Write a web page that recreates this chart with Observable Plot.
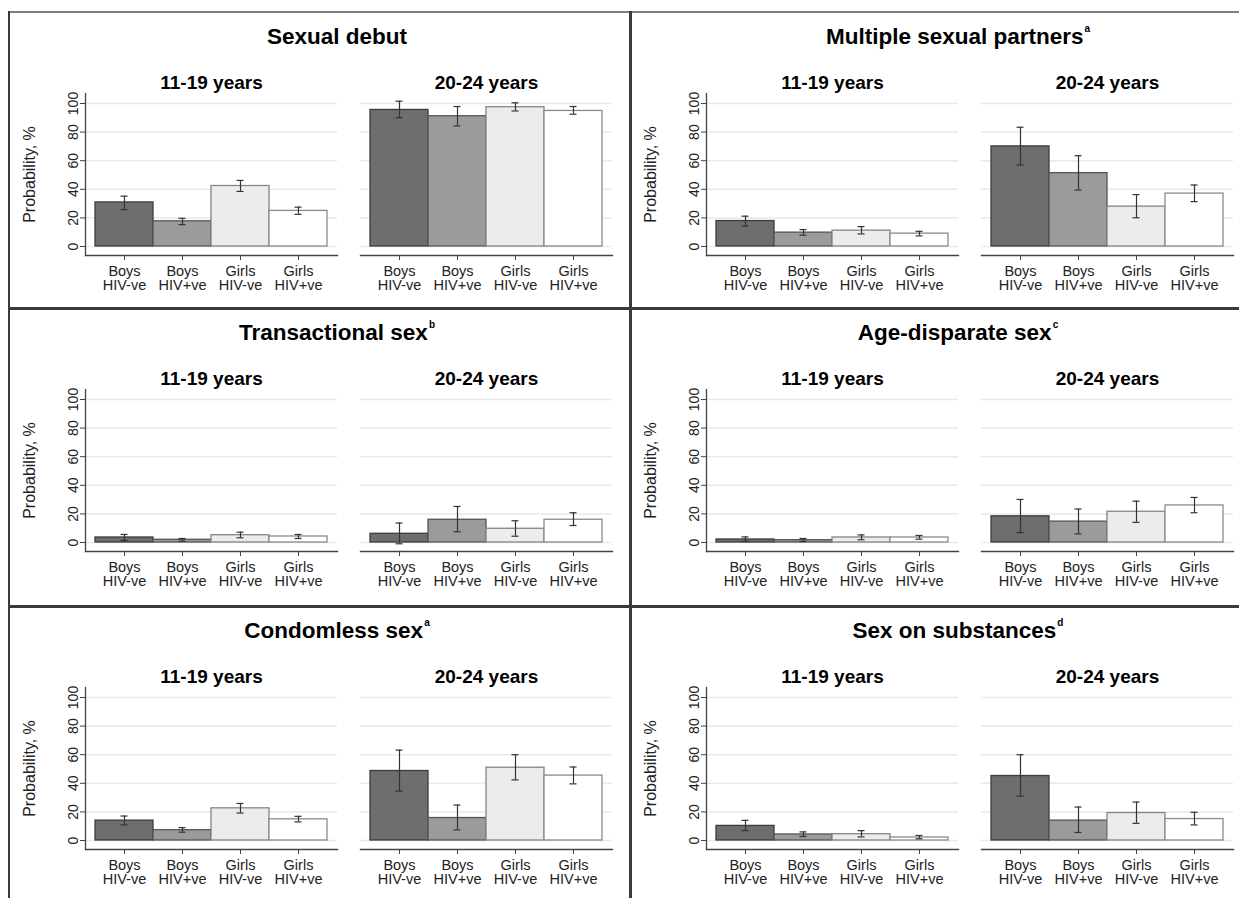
<!DOCTYPE html>
<html><head><meta charset="utf-8">
<script src="https://cdn.jsdelivr.net/npm/d3@7"></script>
<script src="https://cdn.jsdelivr.net/npm/@observablehq/plot@0.6"></script>
<style>
body{margin:0;background:#fff;font-family:"Liberation Sans",Arial,sans-serif;}
#fig{position:relative;width:1239px;height:898px;overflow:hidden;background:#fff}
.cell{position:absolute}
.title{position:absolute;width:500px;text-align:center;font-size:22.5px;font-weight:bold;color:#000;line-height:26px;white-space:nowrap}
.title sup{font-size:10px;vertical-align:12px;line-height:0;margin-left:1px}
.line{position:absolute;background:#3a3a3a}
svg text{font-family:"Liberation Sans",Arial,sans-serif}
g[aria-label="y-axis label"] text{font-size:16px !important;fill:#222}
g[aria-label="y-axis tick label"] text{font-size:14px !important}
g[aria-label="x-axis tick label"] text{font-size:14.5px !important}
g[aria-label="fx-axis tick label"] text{font-size:19px !important;font-weight:bold;fill:#000}
</style></head><body><div id="fig"></div>
<script>
// ---- categories ----
const groups = ["Boys HIV-ve", "Boys HIV+ve", "Girls HIV-ve", "Girls HIV+ve"];
const groupLabels = ["Boys\nHIV-ve", "Boys\nHIV+ve", "Girls\nHIV-ve", "Girls\nHIV+ve"];
const ageGroups = ["11-19 years", "20-24 years"];
const yTicks = [0, 20, 40, 60, 80, 100];
const fillColors = ["#6e6e6e", "#9b9b9b", "#ececec", "#ffffff"];
const strokeColors = ["#3c3c3c", "#555555", "#858585", "#8a8a8a"];

const outcomeTitles = ["Sexual debut", "Multiple sexual partners", "Transactional sex", "Age-disparate sex", "Condomless sex", "Sex on substances"];
const outcomeNotes = ["", "a", "b", "c", "a", "d"];

// ---- values (%): first 4 = 11-19 years, last 4 = 20-24 years ----
const debutEst = [30.8, 17.6, 42.3, 24.9, 95.5, 91.1, 97.4, 94.8];
const debutLo  = [25.8, 15.3, 38.5, 22.5, 90.1, 84.3, 94.8, 92.5];
const debutHi  = [35.2, 19.7, 46.2, 27.5, 101.6, 97.9, 100.5, 97.9];

const partnersEst = [17.8, 9.7, 11.1, 9.0, 70.0, 51.3, 27.9, 37.0];
const partnersLo  = [14.3, 7.9, 8.8, 7.4, 57.0, 39.5, 20.1, 31.4];
const partnersHi  = [21.2, 11.8, 13.9, 10.6, 83.4, 63.5, 36.3, 43.0];

const transactionalEst = [3.5, 1.9, 5.1, 4.2, 6.1, 15.9, 9.6, 15.9];
const transactionalLo  = [1.4, 0.9, 3.3, 2.8, -0.9, 7.5, 4.4, 11.9];
const transactionalHi  = [5.6, 2.8, 7.2, 5.6, 13.6, 25.2, 15.2, 20.8];

const ageDisparateEst = [2.1, 1.6, 3.5, 3.5, 18.3, 14.6, 21.5, 25.9];
const ageDisparateLo  = [0.7, 0.7, 1.9, 2.3, 6.9, 6.0, 14.1, 20.8];
const ageDisparateHi  = [3.9, 2.8, 5.3, 4.9, 30.1, 23.4, 28.9, 31.5];

const condomlessEst = [13.9, 7.2, 22.5, 14.8, 48.6, 15.7, 50.9, 45.4];
const condomlessLo  = [10.9, 5.8, 19.2, 13.0, 34.5, 7.4, 42.4, 39.6];
const condomlessHi  = [17.1, 9.0, 25.9, 16.9, 63.2, 24.8, 60.0, 51.4];

const substancesEst = [10.2, 4.2, 4.4, 2.1, 45.1, 13.9, 19.2, 15.0];
const substancesLo  = [6.9, 2.8, 2.5, 1.2, 31.0, 5.6, 12.0, 10.9];
const substancesHi  = [14.1, 6.0, 6.9, 3.5, 60.0, 23.4, 26.9, 19.7];

const outcomeEst = [debutEst, partnersEst, transactionalEst, ageDisparateEst, condomlessEst, substancesEst];
const outcomeLo = [debutLo, partnersLo, transactionalLo, ageDisparateLo, condomlessLo, substancesLo];
const outcomeHi = [debutHi, partnersHi, transactionalHi, ageDisparateHi, condomlessHi, substancesHi];

// ---- layout ----
const fig = document.getElementById("fig");
const colLeft = [9, 630], colWidth = [621, 609], colMarginRight = [17, 5];
const rowTop = [12, 308, 606];

function addLine(l, t, w, h, c) {
  const d = document.createElement("div");
  d.className = "line";
  Object.assign(d.style, {left: l + "px", top: t + "px", width: w + "px", height: h + "px"});
  if (c) d.style.background = c;
  fig.appendChild(d);
}

outcomeTitles.forEach((title, k) => {
  const col = k % 2, row = Math.floor(k / 2);
  const rows = outcomeEst[k].map((v, i) => ({
    age: ageGroups[Math.floor(i / 4)],
    group: groups[i % 4],
    est: v,
    lo: outcomeLo[k][i],
    hi: outcomeHi[k][i],
    fill: fillColors[i % 4],
    stroke: strokeColors[i % 4]
  }));
  const chart = Plot.plot({
    width: colWidth[col], height: 290,
    marginTop: 81, marginBottom: 47, marginLeft: 76, marginRight: colMarginRight[col],
    fx: {domain: ageGroups, paddingInner: 0.082, paddingOuter: 0, label: null},
    x: {domain: groups, paddingInner: 0, paddingOuter: 0.15, label: null},
    y: {domain: [-6.3, 107], label: null},
    color: {type: "identity"},
    style: {fontFamily: '"Liberation Sans", Arial, sans-serif', fontSize: "14px", color: "#222", background: "white", overflow: "visible"},
    marks: [
      Plot.gridY(yTicks, {stroke: "#e9e9e9", strokeOpacity: 1, strokeWidth: 1.5}),
      Plot.barY(rows, {fx: "age", x: "group", y: "est", fill: "fill", stroke: "stroke", strokeWidth: 1.3}),
      Plot.ruleX(rows, {fx: "age", x: "group", y1: "lo", y2: "hi", stroke: "#333", strokeWidth: 1.2}),
      Plot.tickY(rows, {fx: "age", x: "group", y: "lo", stroke: "#333", strokeWidth: 1.2, insetLeft: 25.5, insetRight: 25.5}),
      Plot.tickY(rows, {fx: "age", x: "group", y: "hi", stroke: "#333", strokeWidth: 1.2, insetLeft: 25.5, insetRight: 25.5}),
      Plot.frame({anchor: "bottom", stroke: "#444", strokeWidth: 1.3}),
      Plot.frame({anchor: "left", facetAnchor: "left", stroke: "#444", strokeWidth: 1.3}),
      Plot.axisY(yTicks, {anchor: "left", tickSize: 5, tickRotate: -90, tickPadding: 3, label: "Probability, %", labelAnchor: "center", labelOffset: 62, labelArrow: "none", stroke: "#444"}),
      Plot.axisX({tickSize: 5, tickPadding: 6, tickFormat: g => groupLabels[groups.indexOf(g)], label: null, stroke: "#444", lineHeight: 0.95}),
      Plot.axisFx({anchor: "top", tickSize: 0, tickPadding: 5, label: null})
    ]
  });
  const cell = document.createElement("div");
  cell.className = "cell";
  cell.style.left = colLeft[col] + "px";
  cell.style.top = rowTop[row] + "px";
  cell.appendChild(chart);
  fig.appendChild(cell);

  const t = document.createElement("div");
  t.className = "title";
  t.style.left = (colLeft[col] + 328 - 250) + "px";
  t.style.top = (rowTop[row] + 12) + "px";
  t.textContent = title;
  if (outcomeNotes[k]) {
    const s = document.createElement("sup");
    s.textContent = outcomeNotes[k];
    t.appendChild(s);
  }
  fig.appendChild(t);
});

// panel borders
addLine(8, 11, 1231, 2, "#808080");
addLine(8, 11, 2, 887);
addLine(629, 11, 2.5, 887);
addLine(8, 307, 1231, 2.5);
addLine(8, 605, 1231, 2.5);
</script></body></html>
